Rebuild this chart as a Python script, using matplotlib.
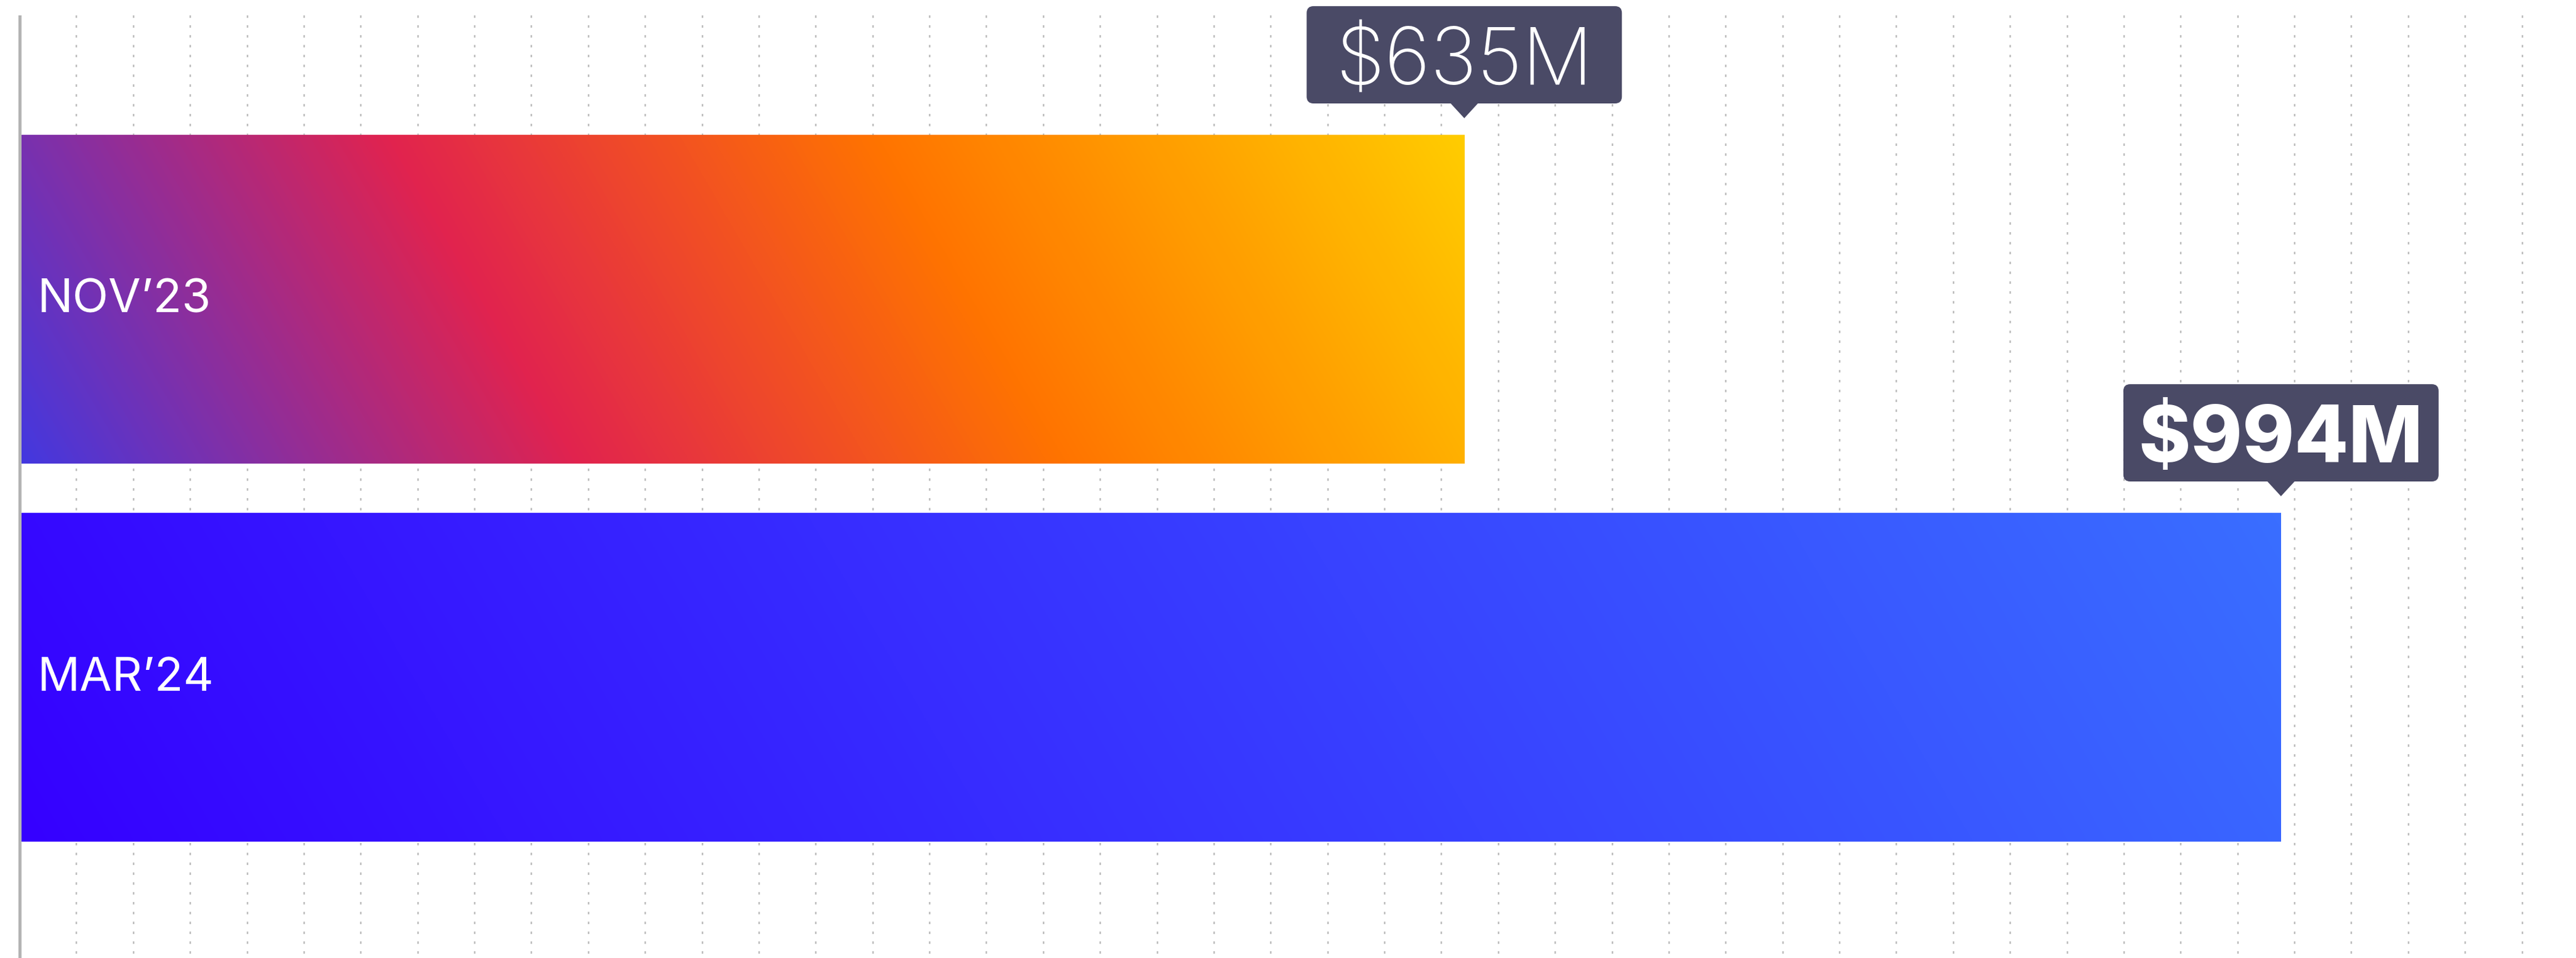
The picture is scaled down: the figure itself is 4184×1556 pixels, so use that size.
import numpy as np
import matplotlib
matplotlib.use("Agg")
import matplotlib.pyplot as plt
from matplotlib.colors import LinearSegmentedColormap
from matplotlib.patches import FancyBboxPatch, Polygon
from matplotlib.transforms import IdentityTransform
from matplotlib.ticker import MultipleLocator

# ---------------- data ----------------
categories = ["NOV\u201923", "MAR\u201924"]
values = [635, 994]
value_labels = ["$635M", "$994M"]
label_weights = ["light", "heavy"]
grid_step = 25

gradient_stops = [
    [(0.0, "#4338e0"), (0.34, "#e1234f"), (0.64, "#ff7400"), (1.0, "#ffcc00")],
    [(0.0, "#3500ff"), (1.0, "#3a6eff")],
]

# ---------------- layout ----------------
plt.rcParams['lines.scale_dashes'] = False
W, H = 4184, 1556
DPI = 100
PX = 72.0 / DPI  # points per pixel

fig = plt.figure(figsize=(W / DPI, H / DPI), dpi=DPI)
fig.patch.set_facecolor("white")
top_px = 25
ax = fig.add_axes([0, 0, 1, (H - top_px) / H])
ax.set_facecolor("none")

px_per_unit = 3.695
zero_px = 32
axes_h = H - top_px
center0 = 486 - top_px
spacing = 614.0
bar_h = 534.0 / spacing

bars = ax.barh(range(len(values)), values, height=bar_h, left=0,
               color="none", edgecolor="none", zorder=2)

angle = np.deg2rad(60)
for rect, stops in zip(bars.patches, gradient_stops):
    x0, y0, w, h = rect.get_x(), rect.get_y(), rect.get_width(), rect.get_height()
    pw, ph = w * px_per_unit, h * spacing
    nx, ny = int(round(pw)), int(round(ph))
    xs = (np.arange(nx) + 0.5) - pw / 2
    ys = (np.arange(ny) + 0.5) - ph / 2
    X, Y = np.meshgrid(xs, ys)
    L = pw * np.sin(angle) + ph * np.cos(angle)
    t = 0.5 + (X * np.sin(angle) - Y * np.cos(angle)) / L
    cmap = LinearSegmentedColormap.from_list("g", stops)
    ax.imshow(t, cmap=cmap, vmin=0, vmax=1, extent=(x0, x0 + w, y0 + h, y0),
              origin="upper", aspect="auto", interpolation="bilinear", zorder=2)

ax.set_xlim(-zero_px / px_per_unit, (W - zero_px) / px_per_unit)
ax.set_ylim((axes_h - center0) / spacing, -center0 / spacing)

for s in ax.spines.values():
    s.set_visible(False)
ax.xaxis.set_major_locator(MultipleLocator(grid_step))
ax.tick_params(length=0, labelleft=False, labelbottom=False)
ax.set_axisbelow(True)
ax.grid(axis="x", color="#bdbdbd", linewidth=2.5 * PX,
        linestyle=(9 * PX, (4 * PX, 12 * PX)))
ax.grid(axis="y", visible=False)
ax.axvline(0, color="#b4b4b4", linewidth=5 * PX, zorder=3)

# category labels inside bars
for i, cat in enumerate(categories):
    ax.annotate(cat, xy=(0, i), xytext=(28, -22), textcoords="offset pixels",
                ha="left", va="baseline", fontsize=55, color="white",
                family=["Inter", "DejaVu Sans"], zorder=4)

# tooltips
tip_color = "#4a4a66"
box_w, box_h, rad = 512, 158, 11
for rect, val, lab, wt in zip(bars.patches, values, value_labels, label_weights):
    xd, yd = ax.transData.transform((val, rect.get_y()))
    tip_y = yd + 27
    yb = yd + 51
    box = FancyBboxPatch((xd - box_w / 2, yb), box_w, box_h,
                         boxstyle=f"round,pad=0,rounding_size={rad}",
                         transform=IdentityTransform(), facecolor=tip_color,
                         edgecolor="none", zorder=5)
    fig.add_artist(box)
    tri = Polygon([[xd - 23, yb + 1], [xd + 23, yb + 1], [xd, tip_y]], closed=True,
                  transform=IdentityTransform(), facecolor=tip_color,
                  edgecolor="none", zorder=5)
    fig.add_artist(tri)
    fig.text(xd, yb + 31, lab, transform=IdentityTransform(), ha="center",
             va="baseline", fontsize=92, fontweight=wt, color="white",
             family=["Inter", "DejaVu Sans"], zorder=6)

fig.savefig("out.png", dpi=DPI, facecolor="white")
